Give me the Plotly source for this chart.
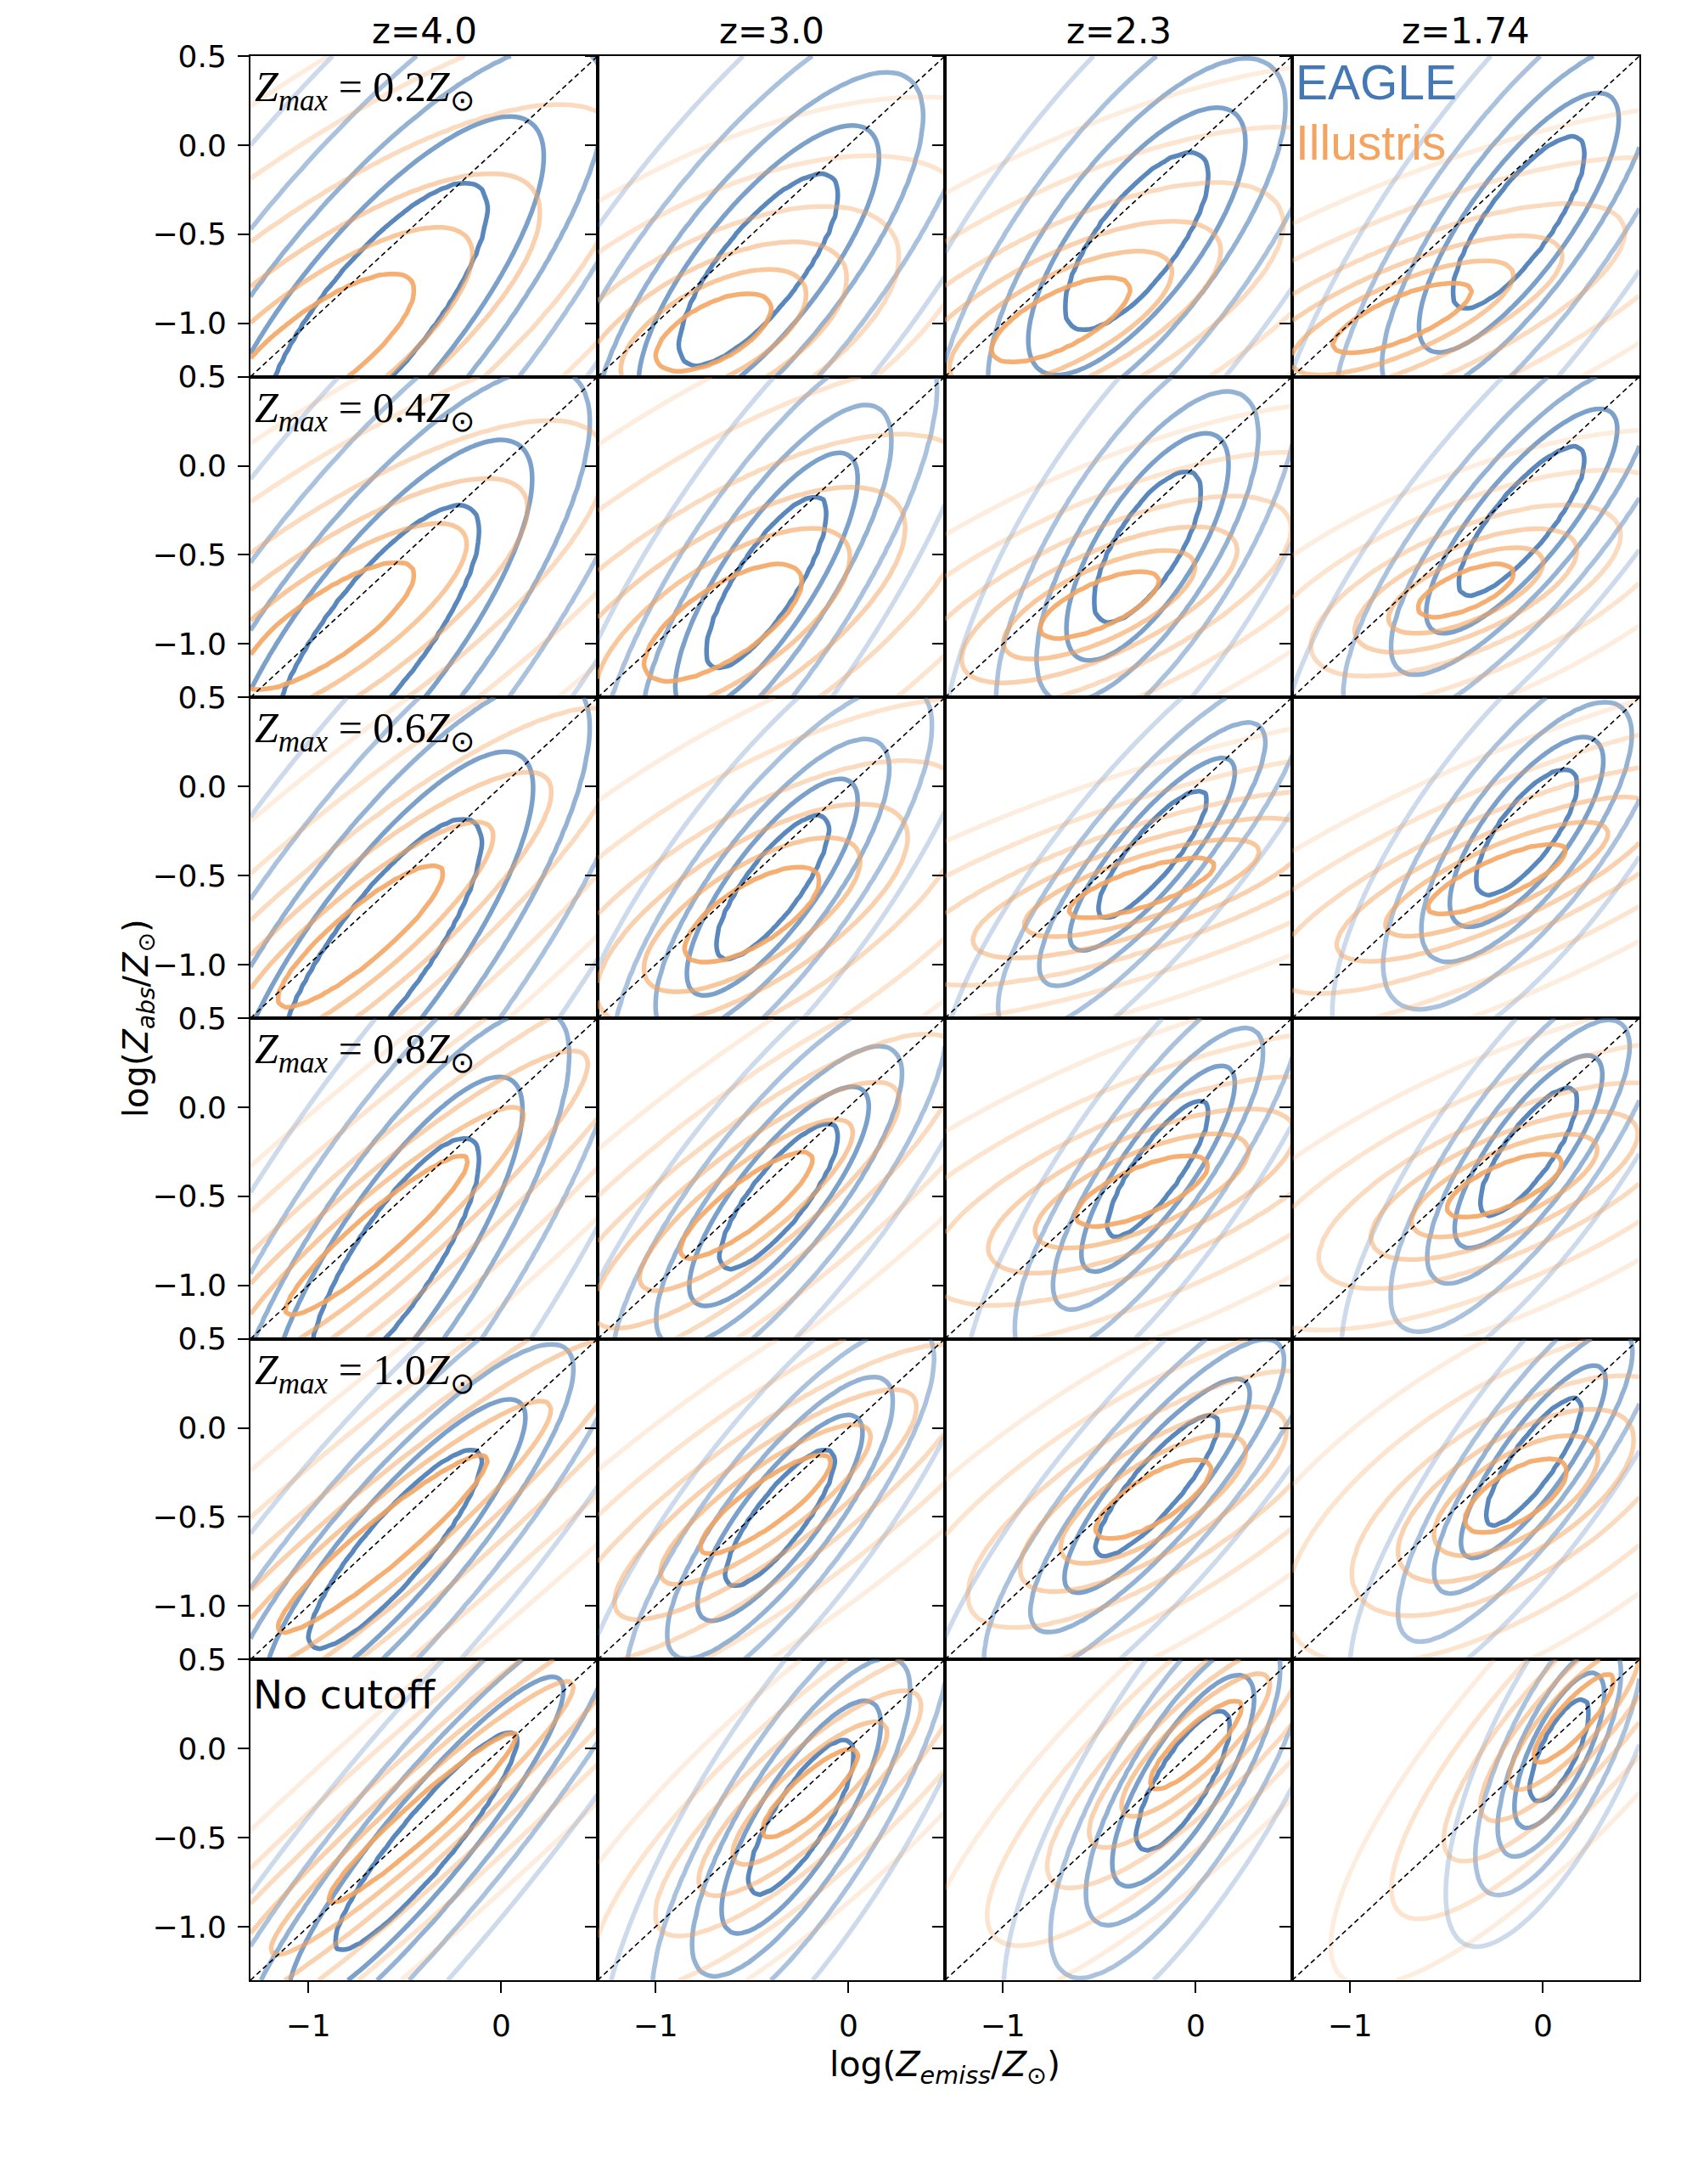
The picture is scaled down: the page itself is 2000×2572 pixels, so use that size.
import numpy as np
import plotly.graph_objects as go
from plotly.subplots import make_subplots

# ---------------- data ----------------
redshift_labels = ["z=4.0", "z=3.0", "z=2.3", "z=1.74"]
cutoff_labels = ["0.2", "0.4", "0.6", "0.8", "1.0", None]

axis_min, axis_max = -1.3, 0.5
y_tickvals = [0.5, 0.0, -0.5, -1.0]
y_ticktext = ["0.5", "0.0", "\u22120.5", "\u22121.0"]
x_tickvals = [-1, 0]
x_ticktext = ["\u22121", "0"]
one_to_one = [-1.3, 0.5]

# EAGLE: bivariate-normal shape of the contours per panel (rows = cutoff, cols = redshift)
eagle_mx = [[-0.65, -0.465, -0.305, -0.125],
            [-0.65, -0.425, -0.25, -0.11],
            [-0.63, -0.395, -0.225, -0.085],
            [-0.55, -0.36, -0.195, -0.075],
            [-0.55, -0.355, -0.20, -0.05],
            [-0.39, -0.245, -0.065, 0.085]]
eagle_my = [[-0.95, -0.70, -0.54, -0.435],
            [-0.95, -0.655, -0.455, -0.31],
            [-0.93, -0.565, -0.38, -0.255],
            [-0.85, -0.50, -0.345, -0.25],
            [-0.68, -0.505, -0.325, -0.19],
            [-0.52, -0.385, -0.18, -0.01]]
eagle_sx = [[0.58, 0.415, 0.375, 0.345],
            [0.54, 0.315, 0.28, 0.33],
            [0.53, 0.295, 0.285, 0.265],
            [0.44, 0.31, 0.265, 0.255],
            [0.45, 0.285, 0.32, 0.25],
            [0.475, 0.275, 0.245, 0.155]]
eagle_sy = [[0.74, 0.54, 0.50, 0.485],
            [0.73, 0.485, 0.425, 0.42],
            [0.75, 0.405, 0.36, 0.355],
            [0.68, 0.41, 0.385, 0.36],
            [0.56, 0.385, 0.40, 0.36],
            [0.615, 0.435, 0.395, 0.29]]
eagle_rho = [[0.80, 0.78, 0.74, 0.80],
             [0.80, 0.80, 0.72, 0.82],
             [0.82, 0.80, 0.85, 0.75],
             [0.82, 0.82, 0.83, 0.80],
             [0.88, 0.83, 0.86, 0.84],
             [0.92, 0.80, 0.78, 0.73]]
eagle_levels = [1.0, 1.5, 2.05, 2.8, 3.8]
eagle_alpha = [0.88, 0.7, 0.57, 0.45, 0.27]

# Illustris
illus_mx = [[-0.95, -0.70, -0.70, -0.73],
            [-0.90, -0.65, -0.50, -0.40],
            [-0.73, -0.50, -0.28, -0.24],
            [-0.645, -0.53, -0.28, -0.20],
            [-0.615, -0.43, -0.22, -0.14],
            [-0.41, -0.20, 0.0, 0.16]]
illus_my = [[-1.15, -1.05, -0.98, -0.97],
            [-0.90, -0.88, -0.78, -0.70],
            [-0.84, -0.72, -0.57, -0.52],
            [-0.72, -0.55, -0.47, -0.44],
            [-0.65, -0.43, -0.40, -0.38],
            [-0.39, -0.25, 0.02, 0.17]]
illus_sx = [[0.50, 0.30, 0.36, 0.36],
            [0.45, 0.41, 0.31, 0.25],
            [0.43, 0.35, 0.38, 0.36],
            [0.475, 0.345, 0.345, 0.30],
            [0.545, 0.34, 0.30, 0.265],
            [0.49, 0.25, 0.24, 0.21]]
illus_sy = [[0.43, 0.22, 0.24, 0.20],
            [0.36, 0.33, 0.19, 0.15],
            [0.40, 0.27, 0.17, 0.20],
            [0.45, 0.30, 0.20, 0.18],
            [0.50, 0.28, 0.225, 0.21],
            [0.48, 0.25, 0.25, 0.25]]
illus_rho = [[0.78, 0.60, 0.70, 0.75],
             [0.80, 0.70, 0.70, 0.65],
             [0.88, 0.70, 0.75, 0.80],
             [0.93, 0.85, 0.70, 0.70],
             [0.94, 0.85, 0.75, 0.65],
             [0.96, 0.85, 0.85, 0.85]]
illus_levels = [1.0, 1.6, 2.3, 3.2, 4.5, 6.0]
illus_alpha = [0.88, 0.62, 0.5, 0.4, 0.3, 0.2]

eagle_rgb = (67, 120, 180)
illus_rgb = (244, 164, 96)

# ---------------- figure ----------------
W, H = 2000, 2572
L, R, T, B = 287, 1923, 58, 2324
nrows, ncols = 6, 4

fig = make_subplots(rows=nrows, cols=ncols, horizontal_spacing=0, vertical_spacing=0)

grid = np.linspace(axis_min, axis_max, 61)
GX, GY = np.meshgrid(grid, grid)


def level_field(mx, my, sx, sy, rho, levels):
    zx = (GX - mx) / sx
    zy = (GY - my) / sy
    d = np.sqrt((zx ** 2 - 2 * rho * zx * zy + zy ** 2) / (1 - rho ** 2))
    n = len(levels)
    big = 100.0
    xp = [0.0] + list(levels) + [big]
    fp = list(range(0, n + 1)) + [n + (big - levels[-1]) / (levels[-1] - levels[-2])]
    return np.round(np.interp(d, xp, fp), 4)


def colorscale(rgb, alphas):
    n = len(alphas)
    return [[i / (n - 1), "rgba(%d,%d,%d,%.3f)" % (rgb[0], rgb[1], rgb[2], a)]
            for i, a in enumerate(alphas)]


for r in range(nrows):
    for c in range(ncols):
        for (mx, my, sx, sy, rho, levels, alphas, rgb) in [
            (eagle_mx, eagle_my, eagle_sx, eagle_sy, eagle_rho, eagle_levels, eagle_alpha, eagle_rgb),
            (illus_mx, illus_my, illus_sx, illus_sy, illus_rho, illus_levels, illus_alpha, illus_rgb),
        ]:
            z = level_field(mx[r][c], my[r][c], sx[r][c], sy[r][c], rho[r][c], levels)
            fig.add_trace(go.Contour(
                x=grid, y=grid, z=z,
                autocontour=False,
                contours=dict(start=1, end=len(levels), size=1, coloring="lines"),
                colorscale=colorscale(rgb, alphas),
                line=dict(width=5.5, smoothing=0.5),
                showscale=False, hoverinfo="skip",
            ), row=r + 1, col=c + 1)
        fig.add_trace(go.Scatter(
            x=one_to_one, y=one_to_one, mode="lines",
            line=dict(color="black", width=1.6, dash="6px,4px"),
            hoverinfo="skip", showlegend=False,
        ), row=r + 1, col=c + 1)

axis_common = dict(range=[axis_min, axis_max], showgrid=False, zeroline=False,
                   showline=True, mirror=True, linecolor="black", linewidth=2,
                   tickcolor="black", tickwidth=2, ticklen=13,
                   tickfont=dict(family="DejaVu Sans", size=36, color="black"))
for r in range(nrows):
    for c in range(ncols):
        fig.update_xaxes(row=r + 1, col=c + 1, **axis_common,
                         tickvals=x_tickvals, ticktext=x_ticktext,
                         ticks="outside" if r == nrows - 1 else "",
                         showticklabels=(r == nrows - 1), ticklabelstandoff=8)
        fig.update_yaxes(row=r + 1, col=c + 1, **axis_common,
                         tickvals=y_tickvals, ticktext=y_ticktext,
                         ticks="outside", showticklabels=(c == 0),
                         ticklabelstandoff=6)


def px_x(px):
    return (px - L) / (R - L)


def px_y(py):
    return (B - py) / (B - T)


ann = []
colw = (R - L) / ncols
rowh = (B - T) / nrows
for c, lab in enumerate(redshift_labels):
    ann.append(dict(x=px_x(L + colw * (c + 0.5)), y=px_y(29), text=lab, showarrow=False,
                    xanchor="center", yanchor="middle",
                    font=dict(family="DejaVu Sans", size=42, color="black")))
for r, cut in enumerate(cutoff_labels):
    top = T + rowh * r
    if cut is None:
        ann.append(dict(x=px_x(288), y=px_y(top + 12), text="No cutoff", showarrow=False,
                        xanchor="left", yanchor="top",
                        font=dict(family="DejaVu Sans", size=47, color="black")))
    else:
        ann.append(dict(x=px_x(290), y=px_y(top + 6),
                        text="<i>Z<sub>max</sub></i> = %s<i>Z</i><sub>\u2299</sub>" % cut,
                        showarrow=False, xanchor="left", yanchor="top",
                        font=dict(family="Liberation Serif", size=50, color="black")))
ann.append(dict(x=px_x(1516), y=px_y(89), text="EAGLE", showarrow=False,
                xanchor="left", yanchor="middle",
                font=dict(family="Liberation Sans", size=57,
                          color="rgb(%d,%d,%d)" % eagle_rgb)))
ann.append(dict(x=px_x(1516), y=px_y(160), text="Illustris", showarrow=False,
                xanchor="left", yanchor="middle",
                font=dict(family="Liberation Sans", size=57,
                          color="rgb(%d,%d,%d)" % illus_rgb)))
ann.append(dict(x=px_x(1105), y=px_y(2426),
                text="log(<i>Z</i><sub><i>emiss</i></sub>/<i>Z</i><sub>\u2299</sub>)",
                showarrow=False, xanchor="center", yanchor="middle",
                font=dict(family="DejaVu Sans", size=41, color="black")))
ann.append(dict(x=px_x(155), y=px_y(1191),
                text="log(<i>Z</i><sub><i>abs</i></sub>/<i>Z</i><sub>\u2299</sub>)",
                showarrow=False, xanchor="center", yanchor="middle", textangle=-90,
                font=dict(family="DejaVu Sans", size=40, color="black")))
for a in ann:
    a["xref"] = "paper"
    a["yref"] = "paper"

fig.update_layout(width=W, height=H, showlegend=False,
                  margin=dict(l=L, r=W - R, t=T, b=H - B, pad=0),
                  paper_bgcolor="white", plot_bgcolor="white",
                  annotations=ann)

fig.write_html("out.html")
